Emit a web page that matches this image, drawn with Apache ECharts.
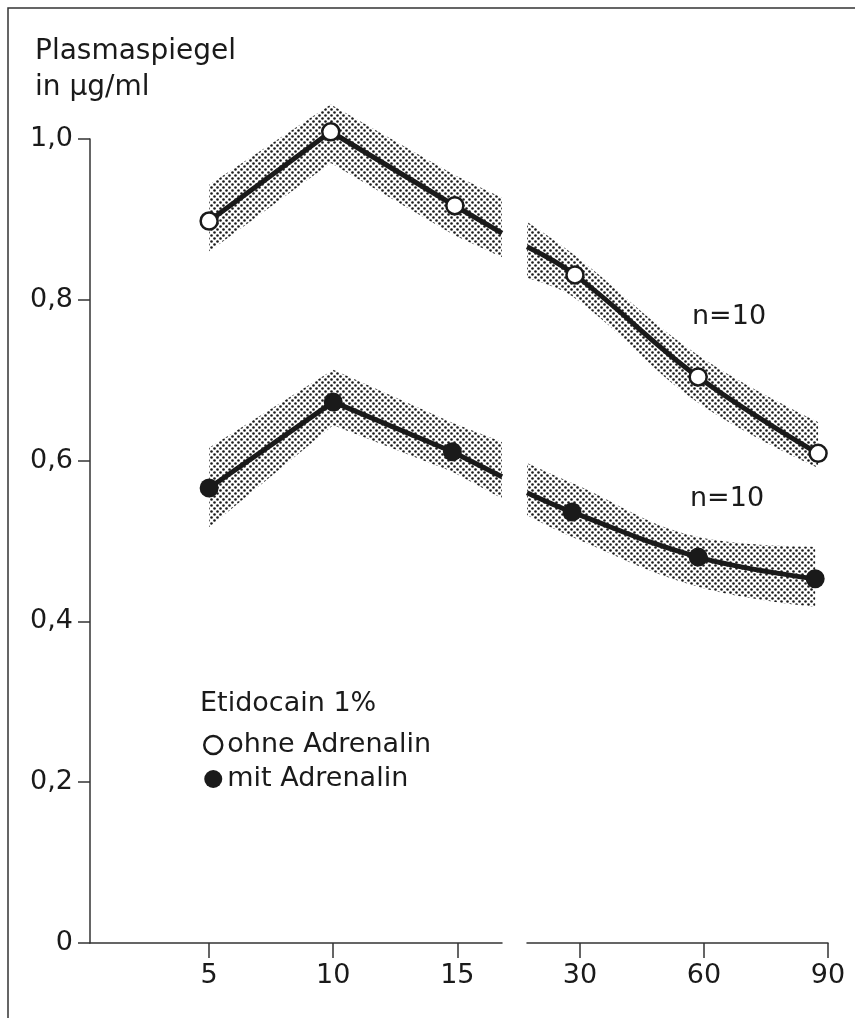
<!DOCTYPE html>
<html>
<head>
<meta charset="utf-8">
<script src="https://cdn.jsdelivr.net/npm/echarts@6/dist/echarts.min.js"></script>
<style>
  html, body { margin: 0; padding: 0; background: #fff; }
  #chart { width: 855px; height: 1018px; }
</style>
</head>
<body>
<div id="chart"></div>
<script>
// x in minutes, y in µg/ml; the x axis is broken after ~17 min
const ohneLeftX = [5, 9.9, 14.9, 16.8]
const ohneLeftY = [0.898, 1.009, 0.917, 0.883]
const ohneLeftHi = [0.943, 1.043, 0.955, 0.927]
const ohneLeftLo = [0.860, 0.970, 0.880, 0.853]

const ohneRightX = [17.2, 28.8, 58.6, 87.6]
const ohneRightY = [0.866, 0.831, 0.704, 0.609]
const ohneRightHi = [0.897, 0.855, 0.731, 0.648]
const ohneRightLo = [0.827, 0.802, 0.672, 0.591]

const mitLeftX = [5, 10, 14.8, 16.8]
const mitLeftY = [0.566, 0.673, 0.611, 0.580]
const mitLeftHi = [0.616, 0.713, 0.647, 0.623]
const mitLeftLo = [0.517, 0.644, 0.586, 0.553]

const mitRightX = [17.2, 28.1, 58.6, 86.9]
const mitRightY = [0.560, 0.536, 0.480, 0.453]
const mitRightHi = [0.597, 0.572, 0.505, 0.493]
const mitRightLo = [0.532, 0.505, 0.443, 0.418]

// points where the curve only runs into the axis break (no measurement marker)
const leftBreakIdx = 3
const rightBreakIdx = 0

const leftTicks = [5, 10, 15]
const rightTicks = [30, 60, 90]

const FONT = 'DejaVu Sans'
const INK = '#1a1a1a'

// halftone dots for the spread bands (diagonal lattice)
const dots = document.createElement('canvas')
dots.width = 6
dots.height = 6
const dctx = dots.getContext('2d')
dctx.fillStyle = INK
for (const [cx, cy] of [[1.5, 1.5], [4.5, 4.5]]) {
  dctx.beginPath()
  dctx.arc(cx, cy, 1.3, 0, Math.PI * 2)
  dctx.fill()
}

// value first, x second, so the stack works on the value
const zipYX = (xs, ys) => xs.map((x, i) => [ys[i], x])

function band(id, xs, lo, hi, axis, smooth) {
  const common = {
    type: 'line', stack: id, xAxisIndex: axis, yAxisIndex: axis,
    encode: { x: 1, y: 0 }, symbol: 'none', smooth, silent: true, clip: false,
    lineStyle: { opacity: 0 }, z: 1,
  }
  return [
    { ...common, data: zipYX(xs, lo) },
    {
      ...common, data: zipYX(xs, hi.map((h, i) => h - lo[i])),
      areaStyle: { color: { image: dots, repeat: 'repeat' }, opacity: 1 },
    },
  ]
}

const openStyle = { color: '#fff', borderColor: INK, borderWidth: 2.5 }
const filledStyle = { color: INK, borderColor: INK, borderWidth: 0 }

function curve(name, xs, ys, axis, smooth, itemStyle, size, breakIdx) {
  return {
    name, type: 'line', xAxisIndex: axis, yAxisIndex: axis,
    data: xs.map((x, i) => (i === breakIdx ? { value: [x, ys[i]], symbol: 'none' } : [x, ys[i]])),
    smooth, clip: false,
    symbol: 'circle', symbolSize: size,
    lineStyle: { color: INK, width: 5 },
    itemStyle, z: 3,
  }
}

const tickLabel = { fontFamily: FONT, fontSize: 27, color: INK }
const axisLine = { lineStyle: { color: '#333', width: 1.5 } }

const chart = echarts.init(document.getElementById('chart'), null, { renderer: 'canvas' })
chart.setOption({
  animation: false,
  backgroundColor: '#fff',
  title: {
    text: 'Plasmaspiegel\nin µg/ml',
    left: 35, top: 34, padding: 0,
    textStyle: { fontFamily: FONT, fontSize: 28, fontWeight: 'normal', lineHeight: 36, color: INK },
  },
  legend: {
    data: [
      { name: 'ohne Adrenalin', itemStyle: openStyle },
      { name: 'mit Adrenalin', itemStyle: filledStyle },
    ],
    orient: 'vertical', left: 203, top: 730, padding: 0,
    icon: 'circle', itemWidth: 18, itemHeight: 18, itemGap: 4,
    textStyle: { fontFamily: FONT, fontSize: 27, lineHeight: 30, color: INK },
    selectedMode: false,
  },
  graphic: [
    { type: 'rect', shape: { x: 8, y: 8, width: 900, height: 1100 }, style: { fill: null, stroke: '#333', lineWidth: 1.5 }, silent: true },
    { type: 'text', left: 200, top: 704 - 14, style: { text: 'Etidocain 1%', font: '27px "' + FONT + '"', fill: INK } },
    { type: 'text', left: 692, top: 318 - 15, style: { text: 'n=10', font: '27px "' + FONT + '"', fill: INK } },
    { type: 'text', left: 690, top: 500 - 15, style: { text: 'n=10', font: '27px "' + FONT + '"', fill: INK } },
  ],
  grid: [
    { left: 90, top: 139, width: 412, height: 804 },
    { left: 527, top: 139, width: 301, height: 804 },
  ],
  xAxis: [
    {
      type: 'value', gridIndex: 0, min: 0.2, max: 16.8,
      axisLine, splitLine: { show: false },
      axisTick: { customValues: leftTicks, length: 15, lineStyle: { color: '#333', width: 1.5 } },
      axisLabel: { customValues: leftTicks, margin: 19, ...tickLabel },
    },
    {
      type: 'value', gridIndex: 1, min: 17.2, max: 90,
      axisLine, splitLine: { show: false },
      axisTick: { customValues: rightTicks, length: 15, lineStyle: { color: '#333', width: 1.5 } },
      axisLabel: { customValues: rightTicks, margin: 19, ...tickLabel },
    },
  ],
  yAxis: [
    {
      type: 'value', gridIndex: 0, min: 0, max: 1, interval: 0.2,
      axisLine: { show: true, lineStyle: { color: '#333', width: 1.5 } },
      axisTick: { show: true, length: 12, lineStyle: { color: '#333', width: 1.5 } },
      splitLine: { show: false },
      axisLabel: {
        margin: 17, ...tickLabel,
        formatter: v => (v === 0 ? '0' : v.toFixed(1).replace('.', ',')),
      },
    },
    { type: 'value', gridIndex: 1, min: 0, max: 1, show: false, splitLine: { show: false } },
  ],
  series: [
    ...band('oL', ohneLeftX, ohneLeftLo, ohneLeftHi, 0, false),
    ...band('oR', ohneRightX, ohneRightLo, ohneRightHi, 1, 0.4),
    ...band('mL', mitLeftX, mitLeftLo, mitLeftHi, 0, false),
    ...band('mR', mitRightX, mitRightLo, mitRightHi, 1, 0.4),
    curve('ohne Adrenalin', ohneLeftX, ohneLeftY, 0, false, openStyle, 17, leftBreakIdx),
    curve('ohne Adrenalin', ohneRightX, ohneRightY, 1, 0.4, openStyle, 17, rightBreakIdx),
    curve('mit Adrenalin', mitLeftX, mitLeftY, 0, false, filledStyle, 19, leftBreakIdx),
    curve('mit Adrenalin', mitRightX, mitRightY, 1, 0.4, filledStyle, 19, rightBreakIdx),
  ],
})
window.addEventListener('resize', () => chart.resize())
</script>
</body>
</html>
